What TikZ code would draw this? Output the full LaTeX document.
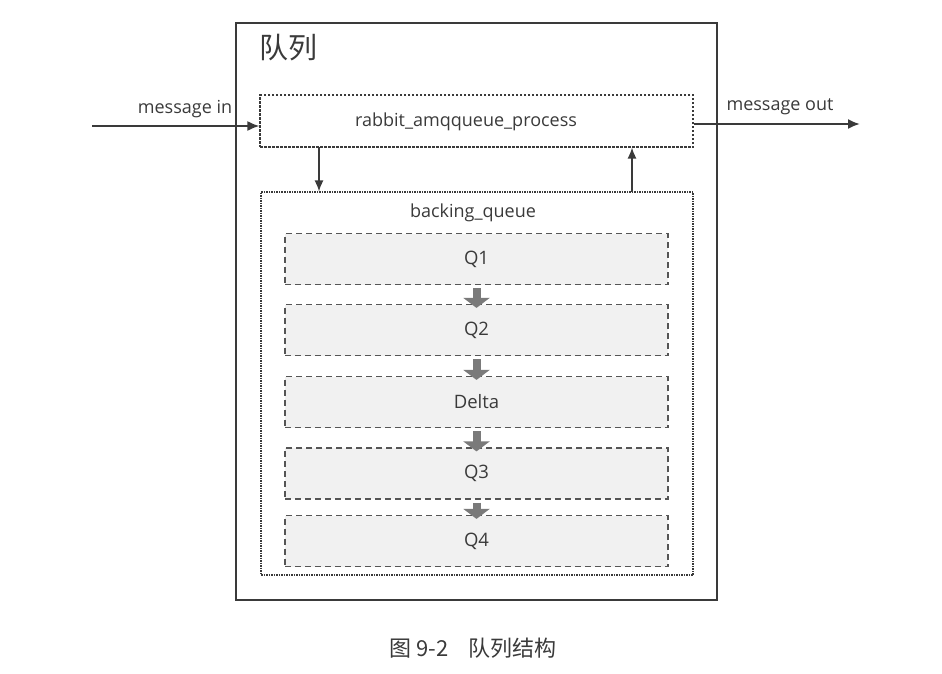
\documentclass[tikz,border=0pt]{standalone}
\usepackage{fontspec}
\setmainfont{Open Sans}
\newfontfamily\cjk{Noto Sans CJK SC}
\usetikzlibrary{arrows.meta,calc}
\definecolor{ink}{HTML}{3A3A3A}
\definecolor{qfill}{HTML}{F1F1F1}
\definecolor{qline}{HTML}{555555}
\definecolor{flow}{HTML}{7A7A7A}
\tikzset{
  box/.style={draw=ink,line width=1.3pt,inner sep=0pt},
  procbox/.style={draw=ink,line width=1.1pt,dash pattern=on 2.5pt off 1.5pt,inner sep=0pt},
  bqbox/.style={draw=ink,line width=1.1pt,dash pattern=on 1.5pt off 1pt,inner sep=0pt},
  qbox/.style={draw=qline,fill=qfill,line width=1.2pt,dash pattern=on 6pt off 4pt,inner sep=0pt,
    minimum width=383pt,minimum height=51pt,font=\fontsize{18.5}{20}\selectfont,text=ink},
  lbl/.style={font=\fontsize{18}{20}\selectfont,text=ink,inner sep=0pt},
  msg/.style={draw=ink,line width=2pt,-{Latex[length=12pt,width=10pt]}},
  link/.style={draw=ink,line width=1.5pt,-{Latex[length=11pt,width=9pt]}},
  qarrow/.style={draw=flow,line width=8pt,-{Triangle[length=10pt,width=26pt]},shorten <=3pt,shorten >=-4pt},
}
\begin{document}
\begin{tikzpicture}[x=1pt,y=-1pt]
\useasboundingbox (0,0) rectangle (942,673);
\node[box,minimum width=481pt,minimum height=577pt] (outer) at (476.5,311.5) {};
\node[anchor=west,inner sep=0pt,text=ink,font=\cjk\fontsize{29}{31}\selectfont] (title) at (259,48) {队列};
\node[procbox,minimum width=433pt,minimum height=52pt] (proc) at (476.5,121) {};
\node[lbl] (proclbl) at (466,122) {rabbit\_amqqueue\_process};
\node[bqbox,minimum width=432pt,minimum height=383pt] (bq) at (477,383.5) {};
\node[lbl] (bqlbl) at (473,213) {backing\_queue};
\node[qbox] (q1) at (476.5,259) {Q1};
\node[qbox] (q2) at (476.5,330) {Q2};
\node[qbox] (delta) at (476.5,402) {Delta};
\node[qbox] (q3) at (476.5,473.5) {Q3};
\node[qbox] (q4) at (476.5,541) {Q4};
\draw[qarrow] (q1.south) -- (q2.north);
\draw[qarrow] (q2.south) -- (delta.north);
\draw[qarrow] (delta.south) -- (q3.north);
\draw[qarrow] (q3.south) -- (q4.north);
\coordinate (min) at (92,126);
\coordinate (mout) at (860,124);
\draw[msg] (min) -- (min -| proc.west);
\draw[msg] (mout -| proc.east) -- (mout);
\node[lbl] (minlbl) at (185,109) {message in};
\node[lbl] (moutlbl) at (780,107) {message out};
\coordinate (dn) at (319,147);
\coordinate (up) at (632,192);
\draw[link] (dn) -- (dn |- bq.north);
\draw[link] (up) -- (up |- proc.south);
\node[inner sep=0pt,text=ink,font=\cjk\fontsize{22}{24}\selectfont] (cap) at (473,648) {图 9-2\hspace{20pt}队列结构};
\end{tikzpicture}
\end{document}
